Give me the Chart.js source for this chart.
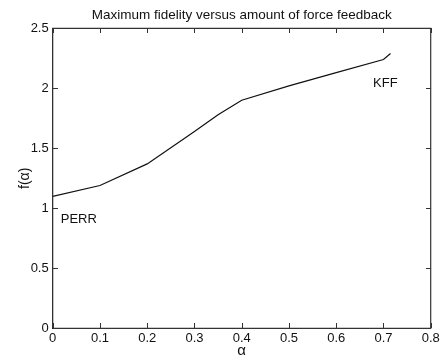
<!DOCTYPE html>
<html>
<head>
<meta charset="utf-8">
<script src="https://cdn.jsdelivr.net/npm/chart.js@4"></script>
<style>
  html, body { margin: 0; padding: 0; background: #fff; }
  #graphCanvas { display: block; }
</style>
</head>
<body>
<canvas id="graphCanvas" width="443" height="360"></canvas>
<script>
// values
const alphaValues = [0, 0.1, 0.2, 0.3, 0.35, 0.4, 0.5, 0.6, 0.7, 0.715];
const fidelityValues = [1.10, 1.19, 1.37, 1.64, 1.78, 1.90, 2.02, 2.13, 2.24, 2.29];

const xTicks = [0, 0.1, 0.2, 0.3, 0.4, 0.5, 0.6, 0.7, 0.8];
const yTicks = [0, 0.5, 1, 1.5, 2, 2.5];

const labelTexts = ['PERR', 'KFF'];
const labelX = [0.017, 0.678];
const labelY = [0.91, 2.04];

const titleText = 'Maximum fidelity versus amount of force feedback';

const FONT = '"Liberation Sans", Arial, Helvetica, sans-serif';

// axis box, following the axis limits
const xMin = xTicks[0], xMax = xTicks[xTicks.length - 1];
const yMin = yTicks[0], yMax = yTicks[yTicks.length - 1];
const boxPoints = [
  { x: xMin, y: yMin }, { x: xMin, y: yMax }, { x: xMax, y: yMax },
  { x: xMax, y: yMin }, { x: xMin, y: yMin }
];

// inward ticks on all four sides, title and text labels
const framePlugin = {
  id: 'frame',
  afterDatasetsDraw(chart) {
    const c = chart.ctx;
    const a = chart.chartArea;
    const xs = chart.scales.x;
    const ys = chart.scales.y;
    const T = Math.round(a.top), B = Math.round(a.bottom);
    const L = Math.round(a.left), R = Math.round(a.right);
    c.save();
    c.fillStyle = '#333';
    xTicks.forEach(v => {
      const px = Math.round(xs.getPixelForValue(v));
      c.fillRect(px, B - 5, 1, 5);
      c.fillRect(px, T, 1, 5);
    });
    yTicks.forEach(v => {
      const py = Math.round(ys.getPixelForValue(v));
      c.fillRect(L, py, 5, 1);
      c.fillRect(R - 5, py, 5, 1);
    });

    c.fillStyle = '#111';
    c.font = '13px ' + FONT;
    c.textAlign = 'left';
    c.textBaseline = 'middle';
    labelTexts.forEach((t, i) => {
      c.fillText(t, xs.getPixelForValue(labelX[i]), ys.getPixelForValue(labelY[i]));
    });

    c.font = '13.5px ' + FONT;
    c.textAlign = 'center';
    c.fillText(titleText, (a.left + a.right) / 2, 15);
    c.restore();
  }
};

const chart = new Chart(document.getElementById('graphCanvas').getContext('2d'), {
  type: 'scatter',
  data: {
    datasets: [
      {
        label: 'f(alpha)',
        data: alphaValues.map((x, i) => ({ x: x, y: fidelityValues[i] })),
        showLine: true,
        borderColor: '#111',
        borderWidth: 1.2,
        pointRadius: 0,
        fill: false,
        tension: 0
      },
      {
        label: 'box',
        data: boxPoints,
        showLine: true,
        borderColor: '#333',
        borderWidth: 1.2,
        pointRadius: 0,
        fill: false,
        tension: 0,
        clip: false
      }
    ]
  },
  options: {
    responsive: false,
    animation: false,
    layout: { padding: { top: 28.3, right: 12.3, left: 0, bottom: 0 } },
    plugins: {
      legend: { display: false },
      tooltip: { enabled: false },
      title: { display: false }
    },
    scales: {
      x: {
        type: 'linear',
        min: xMin,
        max: xMax,
        afterBuildTicks: s => { s.ticks = xTicks.map(v => ({ value: v })); },
        afterFit: s => { s.height = 31.7; },
        grid: { display: false, drawTicks: false },
        border: { display: true, color: '#222', width: 1 },
        ticks: {
          color: '#111',
          padding: 2,
          maxRotation: 0,
          font: { family: FONT, size: 13 },
          callback: v => String(v)
        },
        title: {
          display: true,
          text: 'α',
          color: '#111',
          padding: { top: -3, bottom: 0 },
          font: { family: FONT, size: 15 }
        }
      },
      y: {
        type: 'linear',
        min: yMin,
        max: yMax,
        afterBuildTicks: s => { s.ticks = yTicks.map(v => ({ value: v })); },
        afterFit: s => { s.width = 52.7; },
        grid: { display: false, drawTicks: false },
        border: { display: true, color: '#222', width: 1 },
        ticks: {
          color: '#111',
          padding: 4,
          font: { family: FONT, size: 13 },
          callback: v => String(v)
        },
        title: {
          display: true,
          text: 'f(α)',
          color: '#111',
          padding: { top: 17, bottom: 2 },
          font: { family: FONT, size: 14 }
        }
      }
    }
  },
  plugins: [framePlugin]
});
</script>
</body>
</html>
